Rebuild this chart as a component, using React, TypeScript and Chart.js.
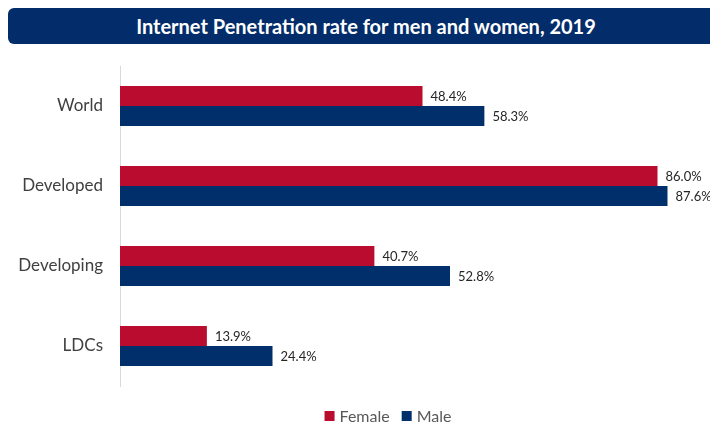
import React, { useEffect, useRef } from "react";
import { Chart, registerables } from "chart.js";

Chart.register(...registerables);

const TITLE = "Internet Penetration rate for men and women, 2019";
const categories = ["World", "Developed", "Developing", "LDCs"];
const femaleValues = [48.4, 86.0, 40.7, 13.9];
const maleValues = [58.3, 87.6, 52.8, 24.4];
const seriesNames = ["Female", "Male"];
const FEMALE_COLOR = "#BA0C2F";
const MALE_COLOR = "#002F6C";
const FONT = "Lato, 'Open Sans', sans-serif";

const valueLabels = {
  id: "valueLabels",
  afterDatasetsDraw(chart: any) {
    const ctx = chart.ctx;
    ctx.save();
    ctx.font = `13px ${FONT}`;
    ctx.fillStyle = "#262626";
    ctx.textBaseline = "middle";
    ctx.textAlign = "left";
    chart.data.datasets.forEach((ds: any, di: number) => {
      const meta = chart.getDatasetMeta(di);
      meta.data.forEach((bar: any, i: number) => {
        const v = ds.data[i];
        ctx.fillText(v.toFixed(1) + "%", bar.x + 8, bar.y + 1);
      });
    });
    ctx.restore();
  },
};

const bottomLegend = {
  id: "bottomLegend",
  afterDraw(chart: any) {
    const ctx = chart.ctx;
    ctx.save();
    ctx.font = `16px ${FONT}`;
    ctx.textBaseline = "middle";
    ctx.textAlign = "left";
    const box = 10;
    const gap = 5;
    const itemGap = 12;
    const items = chart.data.datasets.map((ds: any) => ({
      label: ds.label,
      color: ds.backgroundColor,
      w: box + gap + ctx.measureText(ds.label).width,
    }));
    const total = items.reduce((s: number, it: any) => s + it.w, 0) + itemGap * (items.length - 1);
    const cx = 388;
    const cy = 416;
    let x = cx - total / 2;
    items.forEach((it: any) => {
      ctx.fillStyle = it.color;
      ctx.fillRect(x, cy - box / 2, box, box);
      ctx.fillStyle = "#595959";
      ctx.fillText(it.label, x + box + gap, cy + 1);
      x += it.w + itemGap;
    });
    ctx.restore();
  },
};

export default function App() {
  const ref = useRef<HTMLCanvasElement>(null);
  useEffect(() => {
    if (!ref.current) return;
    const chart = new Chart(ref.current, {
      type: "bar",
      data: {
        labels: categories,
        datasets: [
          {
            label: seriesNames[0],
            data: femaleValues,
            backgroundColor: FEMALE_COLOR,
            borderWidth: 0,
            categoryPercentage: 0.5,
            barPercentage: 1.0,
          },
          {
            label: seriesNames[1],
            data: maleValues,
            backgroundColor: MALE_COLOR,
            borderWidth: 0,
            categoryPercentage: 0.5,
            barPercentage: 1.0,
          },
        ],
      },
      options: {
        indexAxis: "y",
        animation: false,
        responsive: false,
        maintainAspectRatio: false,
        layout: { padding: { top: 66, left: 0, right: 0, bottom: 40 } },
        scales: {
          x: {
            display: false,
            min: 0,
            max: 94.4,
          },
          y: {
            grid: { display: false, drawTicks: false },
            border: { display: true, color: "#D9D9D9", width: 1 },
            ticks: {
              color: "#404040",
              font: { size: 17, family: FONT },
              padding: 17,
            },
            afterFit(scale: any) {
              scale.width = 120;
            },
          },
        },
        plugins: {
          legend: { display: false },
          tooltip: { enabled: false },
          title: { display: false },
        },
      },
      plugins: [valueLabels, bottomLegend],
    });
    return () => chart.destroy();
  }, []);
  return (
    <div style={{ position: "fixed", left: 0, top: 0, width: 710, height: 426, background: "#fff", overflow: "hidden" }}>
      <canvas ref={ref} width={710} height={426} style={{ position: "absolute", left: 0, top: 0, width: 710, height: 426 }} />
      <div
        style={{
          position: "absolute",
          left: 8,
          top: 8,
          width: 716,
          height: 36,
          background: "#022D6A",
          borderRadius: 6,
          color: "#fff",
          fontFamily: FONT,
          fontWeight: 700,
          fontSize: 20,
          lineHeight: "36px",
          textAlign: "center",
        }}
      >
        {TITLE}
      </div>
    </div>
  );
}
